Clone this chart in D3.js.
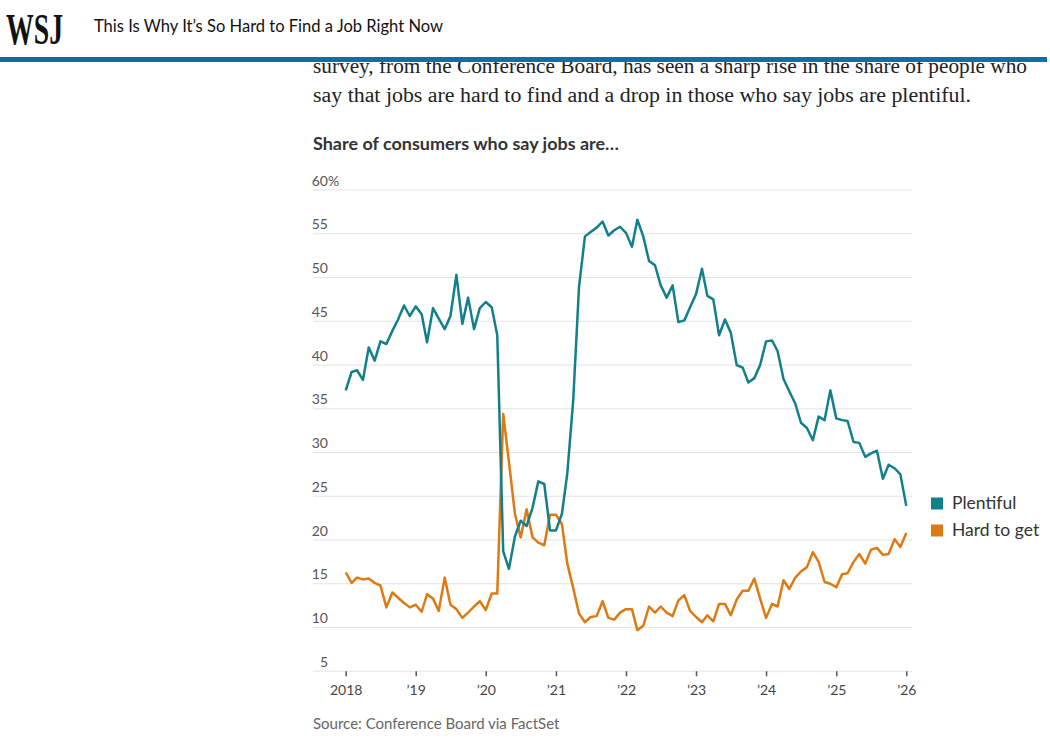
<!DOCTYPE html>
<html>
<head>
<meta charset="utf-8">
<script src="https://cdn.jsdelivr.net/npm/d3@7/dist/d3.min.js"></script>
<style>
  html, body { margin: 0; padding: 0; background: #fff; }
  svg { display: block; }
</style>
</head>
<body>
<svg id="chart" width="1050" height="745"></svg>
<script>
// ---- Data (monthly, Jan 2018 – Jan 2026) ----
const startMonth = "2018-01";
const plentiful = [
  37.1, 39.2, 39.4, 38.3, 42.0, 40.5, 42.7, 42.4, 43.9, 45.2, 46.8, 45.6,
  46.7, 45.8, 42.6, 46.5, 45.3, 44.1, 45.6, 50.3, 44.7, 47.7, 44.1, 46.5,
  47.2, 46.6, 43.4, 18.7, 16.7, 20.4, 22.2, 21.6, 23.7, 26.7, 26.4, 21.1,
  21.1, 23.0, 27.6, 36.0, 48.9, 54.7, 55.2, 55.7, 56.4, 54.8, 55.4, 55.8,
  55.1, 53.5, 56.6, 54.7, 51.9, 51.4, 49.1, 47.7, 49.1, 44.9, 45.1, 46.6,
  48.1, 51.0, 47.9, 47.5, 43.4, 45.2, 43.7, 40.0, 39.7, 38.0, 38.5, 40.0,
  42.7, 42.8, 41.6, 38.4, 37.0, 35.6, 33.4, 32.8, 31.4, 34.1, 33.7, 37.1,
  33.9, 33.7, 33.6, 31.2, 31.1, 29.5, 29.9, 30.2, 27.0, 28.6, 28.2, 27.5,
  23.9
];
const hardToGet = [
  16.3, 15.1, 15.7, 15.5, 15.6, 15.1, 14.8, 12.3, 14.0, 13.4, 12.8, 12.3,
  12.6, 11.8, 13.8, 13.3, 11.9, 15.7, 12.6, 12.1, 11.1, 11.7, 12.4, 13.0,
  12.0, 13.9, 13.9, 34.4, 28.9, 23.0, 20.3, 23.5, 20.3, 19.7, 19.4, 22.9,
  22.9, 21.8, 17.3, 14.5, 11.6, 10.6, 11.2, 11.3, 13.0, 11.1, 10.9, 11.7,
  12.1, 12.1, 9.7, 10.2, 12.4, 11.7, 12.4, 11.7, 11.3, 13.1, 13.7, 11.9,
  11.2, 10.6, 11.4, 10.7, 12.7, 12.7, 11.4, 13.2, 14.2, 14.2, 15.6, 13.3,
  11.1, 12.7, 12.4, 15.4, 14.4, 15.7, 16.4, 16.9, 18.6, 17.5, 15.2, 15.0,
  14.6, 16.1, 16.2, 17.5, 18.4, 17.3, 18.9, 19.1, 18.3, 18.4, 20.1, 19.2,
  20.8
];
const seriesNames = ["Plentiful", "Hard to get"];
const yTicks = [5, 10, 15, 20, 25, 30, 35, 40, 45, 50, 55, 60];
const xTickYears = [2018, 2019, 2020, 2021, 2022, 2023, 2024, 2025, 2026];
const xTickLabels = ["2018", "\u201919", "\u201920", "\u201921", "\u201922", "\u201923", "\u201924", "\u201925", "\u201926"];

const headline = "This Is Why It\u2019s So Hard to Find a Job Right Now";
const bodyLines = [
  "survey, from the Conference Board, has seen a sharp rise in the share of people who",
  "say that jobs are hard to find and a drop in those who say jobs are plentiful."
];
const chartTitle = "Share of consumers who say jobs are\u2026";
const sourceText = "Source: Conference Board via FactSet";

// ---- Styling ----
const COLORS = { plentiful: "#12808c", hard: "#de7a12", grid: "#e3e3e3", text: "#555", bar: "#0a6fb0" };
const SANS = "Lato, 'Open Sans', 'Noto Sans', sans-serif";
const SERIF = "'Liberation Serif', 'DejaVu Serif', serif";

const svg = d3.select("#chart");
const parse = d3.timeParse("%Y-%m");
const t0 = parse(startMonth);
const dates = plentiful.map((_, i) => d3.timeMonth.offset(t0, i));

const x = d3.scaleTime()
  .domain([new Date(2018, 0, 1), new Date(2026, 0, 1)])
  .range([345.7, 906.3]);
const y = d3.scaleLinear().domain([5, 60]).range([671.25, 190]);

const gridX0 = 313, gridX1 = 912;

// ---- Body text (drawn first so sticky header covers it) ----
const body = svg.append("g");
body.selectAll("text").data(bodyLines).join("text")
  .attr("x", 313)
  .attr("y", (d, i) => 73 + i * 29)
  .attr("font-family", SERIF)
  .attr("font-size", 20.5)
  .attr("fill", "#222")
  .attr("textLength", (d, i) => i === 0 ? 714 : 658)
  .attr("lengthAdjust", "spacingAndGlyphs")
  .text(d => d);

// ---- Header ----
svg.append("rect").attr("x", 0).attr("y", 0).attr("width", 1050).attr("height", 57).attr("fill", "#fff");
svg.append("rect").attr("x", 0).attr("y", 57).attr("width", 1047).attr("height", 5).attr("fill", COLORS.bar);
svg.append("text")
  .attr("x", 6).attr("y", 43.5)
  .attr("font-family", SERIF).attr("font-weight", "bold")
  .attr("font-size", 44)
  .attr("textLength", 57).attr("lengthAdjust", "spacingAndGlyphs")
  .attr("fill", "#111")
  .text("WSJ");
svg.append("text")
  .attr("x", 94).attr("y", 32.3)
  .attr("font-family", SANS).attr("font-size", 16.5)
  .attr("textLength", 349).attr("lengthAdjust", "spacingAndGlyphs")
  .attr("fill", "#111")
  .text(headline);

// ---- Chart title ----
svg.append("text")
  .attr("x", 313).attr("y", 150)
  .attr("font-family", SANS).attr("font-weight", "bold").attr("font-size", 16.5)
  .attr("fill", "#333")
  .attr("textLength", 306).attr("lengthAdjust", "spacingAndGlyphs")
  .text(chartTitle);

// ---- Gridlines ----
const grid = svg.append("g");
grid.selectAll("line").data(yTicks).join("line")
  .attr("x1", gridX0).attr("x2", gridX1)
  .attr("y1", d => y(d)).attr("y2", d => y(d))
  .attr("stroke", COLORS.grid).attr("stroke-width", 1.2);

// ---- Y labels ----
const ylab = svg.append("g")
  .attr("font-family", SANS).attr("font-size", 14).attr("fill", COLORS.text);
ylab.selectAll("text.num").data(yTicks).join("text")
  .attr("class", "num")
  .attr("x", 328).attr("y", d => y(d) - 4.5)
  .attr("text-anchor", "end")
  .text(d => d);
ylab.append("text")
  .attr("x", 328).attr("y", y(60) - 4.5)
  .text("%");

// ---- X axis ticks ----
const xAxis = d3.axisBottom(x)
  .tickValues(xTickYears.map(yr => new Date(yr, 0, 1)))
  .tickSize(5)
  .tickPadding(9)
  .tickFormat((d, i) => xTickLabels[i]);
const xg = svg.append("g").attr("transform", `translate(0,${y(5)})`).call(xAxis);
xg.select(".domain").remove();
xg.selectAll(".tick line").attr("stroke", "#555").attr("stroke-width", 1.5);
xg.selectAll(".tick text")
  .attr("font-family", SANS).attr("font-size", 14).attr("fill", "#444");

// ---- Lines ----
const line = d3.line()
  .x((d, i) => x(dates[i]))
  .y(d => y(d));

svg.append("path").datum(hardToGet)
  .attr("d", line)
  .attr("fill", "none").attr("stroke", COLORS.hard)
  .attr("stroke-width", 2.5).attr("stroke-linejoin", "round");
svg.append("path").datum(plentiful)
  .attr("d", line)
  .attr("fill", "none").attr("stroke", COLORS.plentiful)
  .attr("stroke-width", 2.5).attr("stroke-linejoin", "round");

// ---- Legend ----
const legendColors = [COLORS.plentiful, COLORS.hard];
const lg = svg.append("g");
const items = lg.selectAll("g").data(seriesNames).join("g")
  .attr("transform", (d, i) => `translate(931,${497.5 + i * 27})`);
items.append("rect").attr("width", 12).attr("height", 12)
  .attr("fill", (d, i) => legendColors[i]);
items.append("text")
  .attr("x", 21).attr("y", 11.5)
  .attr("font-family", SANS).attr("font-size", 17.5).attr("fill", "#333")
  .text(d => d);

// ---- Source ----
svg.append("text")
  .attr("x", 313).attr("y", 729)
  .attr("font-family", SANS).attr("font-size", 15).attr("fill", "#666")
  .text(sourceText);
</script>
</body>
</html>
